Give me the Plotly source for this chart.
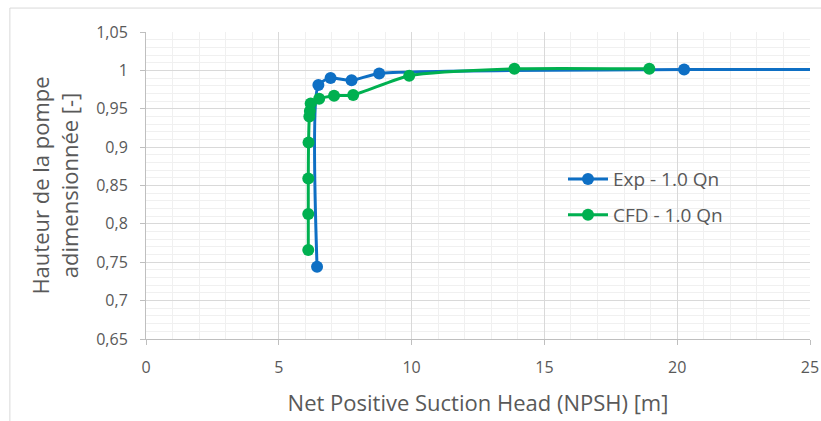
import plotly.graph_objects as go

# Data
exp_x = [6.44, 6.49, 6.95, 7.74, 8.78, 20.26, 26.0]
exp_y = [0.744, 0.981, 0.990, 0.987, 0.996, 1.001, 1.001]

cfd_x = [6.11, 6.11, 6.11, 6.12, 6.15, 6.17, 6.20, 6.52, 7.08, 7.80, 9.91, 13.87, 18.95]
cfd_y = [0.766, 0.813, 0.859, 0.906, 0.940, 0.947, 0.957, 0.963, 0.967, 0.968, 0.993, 1.002, 1.002]

x_ticks = [0, 5, 10, 15, 20, 25]
x_ticktext = ["0", "5", "10", "15", "20", "25"]
y_ticks = [0.65, 0.70, 0.75, 0.80, 0.85, 0.90, 0.95, 1.00, 1.05]
y_ticktext = ["0,65", "0,7", "0,75", "0,8", "0,85", "0,9", "0,95", "1", "1,05"]

FONT = "Open Sans"
GREY = "#595959"

fig = go.Figure()
fig.add_trace(go.Scatter(
    x=exp_x, y=exp_y, name="Exp - 1.0 Qn", mode="lines+markers",
    line=dict(color="#0E6FC4", width=3, shape="spline", smoothing=0.6),
    marker=dict(color="#0E6FC4", size=12), legendgroup="a"))
fig.add_trace(go.Scatter(
    x=cfd_x, y=cfd_y, name="CFD - 1.0 Qn", mode="lines+markers",
    line=dict(color="#00B050", width=3, shape="spline", smoothing=0.6),
    marker=dict(color="#00B050", size=12), legendgroup="b"))

fig.update_layout(
    width=821, height=421,
    margin=dict(l=146, r=11, t=32, b=82, autoexpand=False),
    paper_bgcolor="white", plot_bgcolor="white",
    font=dict(family=FONT, color=GREY),
    showlegend=True,
    legend=dict(x=0.628, y=0.462, xanchor="left", yanchor="middle",
                font=dict(size=19, color=GREY), bgcolor="rgba(0,0,0,0)",
                tracegroupgap=8, itemwidth=40),
    shapes=[
        dict(type="line", xref="paper", yref="paper", x0=-0.205, x1=1.03, y0=1.078, y1=1.078,
             line=dict(color="#d9d9d9", width=1)),
        dict(type="line", xref="paper", yref="paper", x0=-0.205, x1=-0.205, y0=-0.3, y1=1.078,
             line=dict(color="#d9d9d9", width=1)),
    ],
)

fig.update_xaxes(
    range=[0, 25], tickvals=x_ticks, ticktext=x_ticktext,
    showgrid=True, gridcolor="#d9d9d9", gridwidth=1,
    minor=dict(dtick=1, showgrid=True, gridcolor="#f0f0f0", ticks=""),
    showline=True, linecolor="#bfbfbf", linewidth=1,
    ticks="outside", ticklen=5, tickcolor="#bfbfbf",
    tickfont=dict(size=16, color=GREY), ticklabelstandoff=9,
    zeroline=False, automargin=False,
    title=dict(text="Net Positive Suction Head (NPSH) [m]", font=dict(size=22, color=GREY), standoff=18),
)
fig.update_yaxes(
    range=[0.65, 1.05], tickvals=y_ticks, ticktext=y_ticktext,
    showgrid=True, gridcolor="#d9d9d9", gridwidth=1,
    minor=dict(dtick=0.01, showgrid=True, gridcolor="#f0f0f0", ticks=""),
    showline=True, linecolor="#bfbfbf", linewidth=1,
    ticks="outside", ticklen=5, tickcolor="#bfbfbf",
    tickfont=dict(size=16, color=GREY), ticklabelstandoff=9,
    zeroline=False, automargin=False,
    title=dict(text="Hauteur de la pompe<br>adimensionnée [-]", font=dict(size=22, color=GREY), standoff=11),
)

fig.write_html("out.html", config={"displayModeBar": False},
               post_script="document.body.style.margin='0';")
